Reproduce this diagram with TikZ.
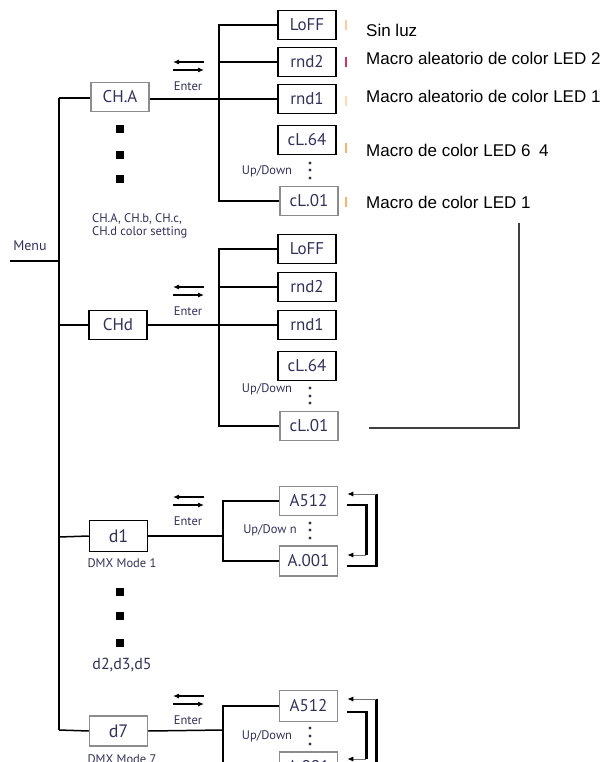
\documentclass[tikz,border=0pt]{standalone}
\usepackage{fontspec}
\setmainfont{PT Sans}
\newfontfamily\arialf{Liberation Sans}
\usetikzlibrary{arrows.meta,calc}
\definecolor{txt}{HTML}{33315A}
\definecolor{gline}{HTML}{8C8C8C}
\begin{document}
\begin{tikzpicture}[x=1pt,y=-1pt,
  box/.style={draw=black,line width=1.5pt,minimum width=58pt,minimum height=29pt,inner sep=0pt,font=\fontsize{17}{17}\selectfont,text=txt},
  graybox/.style={box,draw=gline},
  wire/.style={line width=1.5pt},
  desc/.style={anchor=base west,font=\arialf\fontsize{17}{17}\selectfont,inner sep=0pt},
  smalltxt/.style={font=\fontsize{12.5}{13}\selectfont,text=txt,inner sep=0pt},
  desctick/.style={line width=2pt},
  sqdot/.style={fill=black,minimum size=8pt,inner sep=0pt},
  enterarrow/.style={line width=1.1pt,-{Latex[length=6pt,width=5pt]}},
  thickline/.style={line width=2.6pt},
  retarrow/.style={line width=1pt,draw=black!55,-{Latex[length=6pt,width=5pt,fill=black,color=black]}},
  bracket/.style={line width=1.5pt,draw=black!75}
]
\useasboundingbox (0,0) rectangle (608,762);
\clip (0,0) rectangle (608,762);

% Menu trunk
\node[smalltxt,font=\fontsize{14}{14}\selectfont] (menu) at (30,246) {Menu};
\coordinate (menuL) at (10,261);
\coordinate (menuJ) at (59,261);
\coordinate (menuTop) at (59,98);
\coordinate (menuCHd) at (59,325);
\coordinate (menuD1) at (59,537);
\coordinate (menuBot) at (59,730);
\draw[wire] (menuL) -- (menuJ);
\draw[wire] (menuTop) -- (menuBot);

% ---------- Group 1: CH.A ----------
\node[graybox] (cha) at (120,97) {CH.A};
\node[box] (loff1) at (307,25) {LoFF};
\node[box] (rndtwo1) at (307,62) {rnd2};
\node[box] (rndone1) at (307,99) {rnd1};
\node[box] (clsf1) at (307,140) {cL.64};
\node[graybox] (clone1) at (309,201) {cL.01};
\coordinate (b1) at (219,99);
\draw[wire] (menuTop) -- (menuTop -| cha.west);
\draw[wire] (cha.east |- rndone1.west) -- (rndone1.west);
\draw[wire] (loff1.west) -- (loff1.west -| b1) -- (clone1.west -| b1) -- (clone1.west);
\draw[wire] (rndtwo1.west) -- (rndtwo1.west -| b1);
\node[smalltxt] (ud1) at (267,171) {Up/Down};
\foreach \yy in {163,170,178} \fill[txt] (310,\yy) circle (1.7);
\foreach \yy in {129,155,179} \node[sqdot] at (120,\yy) {};
\node[smalltxt,anchor=west,align=left] (chlist) at (92,226) {CH.A, CH.b, CH.c,\\CH.d color setting};

% ticks and descriptions
\draw[desctick,color=orange!40] (346,20) -- (346,30);
\draw[desctick,color=purple!80] (346,57) -- (346,67);
\draw[desctick,color=orange!30] (346,96) -- (346,106);
\draw[desctick,color=orange!60] (346,143) -- (346,153);
\draw[desctick,color=orange!60] (346,197) -- (346,207);
\node[desc] (d_loff) at (366,37) {Sin luz};
\node[desc] (d_rnd2) at (366,65) {Macro aleatorio de color LED 2};
\node[desc] (d_rnd1) at (366,103) {Macro aleatorio de color LED 1};
\node[desc] (d_cl64) at (366,157) {Macro de color LED 6\hspace{0.5em}4};
\node[desc] (d_cl01) at (366,208) {Macro de color LED 1};

% ---------- Group 2: CHd ----------
\node[box] (chd) at (118,325) {CHd};
\node[box] (loff2) at (307,249) {LoFF};
\node[box] (rndtwo2) at (307,287) {rnd2};
\node[box] (rndone2) at (307,325) {rnd1};
\node[box] (clsf2) at (307,366) {cL.64};
\node[graybox] (clone2) at (309,426) {cL.01};
\coordinate (b2) at (219,325);
\draw[wire] (menuCHd) -- (chd.west);
\draw[wire] (chd.east) -- (rndone2.west);
\draw[wire] (loff2.west) -- (loff2.west -| b2) -- (clone2.west -| b2) -- (clone2.west);
\draw[wire] (rndtwo2.west) -- (rndtwo2.west -| b2);
\node[smalltxt] (ud2) at (267,389) {Up/Down};
\foreach \yy in {388,396,403} \fill[txt] (310,\yy) circle (1.7);

% big bracket
\coordinate (brS) at (369,428);
\coordinate (brT) at (519,223);
\draw[bracket] (brS) -| (brT);

% Enter arrows
\foreach \y in {62,287,497,696} {
  \draw[enterarrow] (204,\y) -- (173,\y);
  \draw[enterarrow] (173,\y+8) -- (204,\y+8);
  \node[smalltxt] at (188,\y+24) {Enter};
}

% ---------- Group 3: d1 ----------
\node[box,font=\fontsize{18}{18}\selectfont,minimum height=31pt] (dOne) at (118.5,536) {d1};
\node[graybox] (afive1) at (308.5,501) {A512};
\node[graybox,minimum height=30pt] (azero1) at (308.5,561) {A.001};
\coordinate (b3) at (223,536);
\draw[wire] (menuD1) -- (dOne.west);
\draw[wire] (dOne.east) -- (b3);
\draw[wire] (afive1.west) -- (afive1.west -| b3) -- (azero1.west -| b3) -- (azero1.west);
\node[smalltxt] (ud3) at (270,530) {Up/Dow n};
\foreach \yy in {523,530,538} \fill[txt] (310,\yy) circle (1.7);
\node[smalltxt] (dmx1) at (122,563) {DMX Mode 1};
% inner return
\coordinate (i1a) at ($(afive1.east)+(9,4)$);
\coordinate (i1b) at ($(afive1.east)+(28,4)$);
\coordinate (i1c) at ($(azero1.east)+(28,-6)$);
\coordinate (i1d) at ($(azero1.east)+(9,-6)$);
\draw[thickline] (i1a) -- (i1b) -- (i1c);
\draw[retarrow] (i1c) -- (i1d);
% outer return
\coordinate (o1a) at ($(azero1.east)+(9,5)$);
\coordinate (o1b) at ($(azero1.east)+(38,5)$);
\coordinate (o1c) at ($(afive1.east)+(38,-7)$);
\coordinate (o1d) at ($(afive1.east)+(9,-7)$);
\draw[thickline] (o1a) -- (o1b) -- (o1c);
\draw[retarrow] (o1c) -- (o1d);

\foreach \yy in {592,616,643} \node[sqdot] at (120,\yy) {};
\node[font=\fontsize{16}{16}\selectfont,text=txt,inner sep=0pt] (dlist) at (122,665) {d2,d3,d5};

% ---------- Group 4: d7 ----------
\node[graybox,font=\fontsize{18}{18}\selectfont,minimum height=30pt] (dSeven) at (118.5,731) {d7};
\node[graybox,minimum height=31pt] (afive2) at (308.5,706) {A512};
\node[graybox,minimum height=30pt] (azero2) at (308.5,767) {A.001};
\coordinate (b4) at (223,730);
\draw[wire] (menuBot) -- (dSeven.west);
\draw[wire] (dSeven.east) -- (b4);
\draw[wire] (afive2.west) -- (afive2.west -| b4) -- (azero2.west -| b4) -- (azero2.west);
\node[smalltxt] (ud4) at (267,736) {Up/Down};
\foreach \yy in {728,736,744} \fill[txt] (310,\yy) circle (1.7);
\node[smalltxt] (dmx7) at (122,759) {DMX Mode 7};
\coordinate (i2a) at ($(afive2.east)+(9,6)$);
\coordinate (i2b) at ($(afive2.east)+(28,6)$);
\coordinate (i2c) at ($(azero2.east)+(28,-8)$);
\coordinate (i2d) at ($(azero2.east)+(9,-8)$);
\draw[thickline] (i2a) -- (i2b) -- (i2c);
\draw[retarrow] (i2c) -- (i2d);
\coordinate (o2a) at ($(azero2.east)+(9,5)$);
\coordinate (o2b) at ($(azero2.east)+(38,5)$);
\coordinate (o2c) at ($(afive2.east)+(38,-7)$);
\coordinate (o2d) at ($(afive2.east)+(9,-7)$);
\draw[thickline] (o2a) -- (o2b) -- (o2c);
\draw[retarrow] (o2c) -- (o2d);
\end{tikzpicture}
\end{document}
